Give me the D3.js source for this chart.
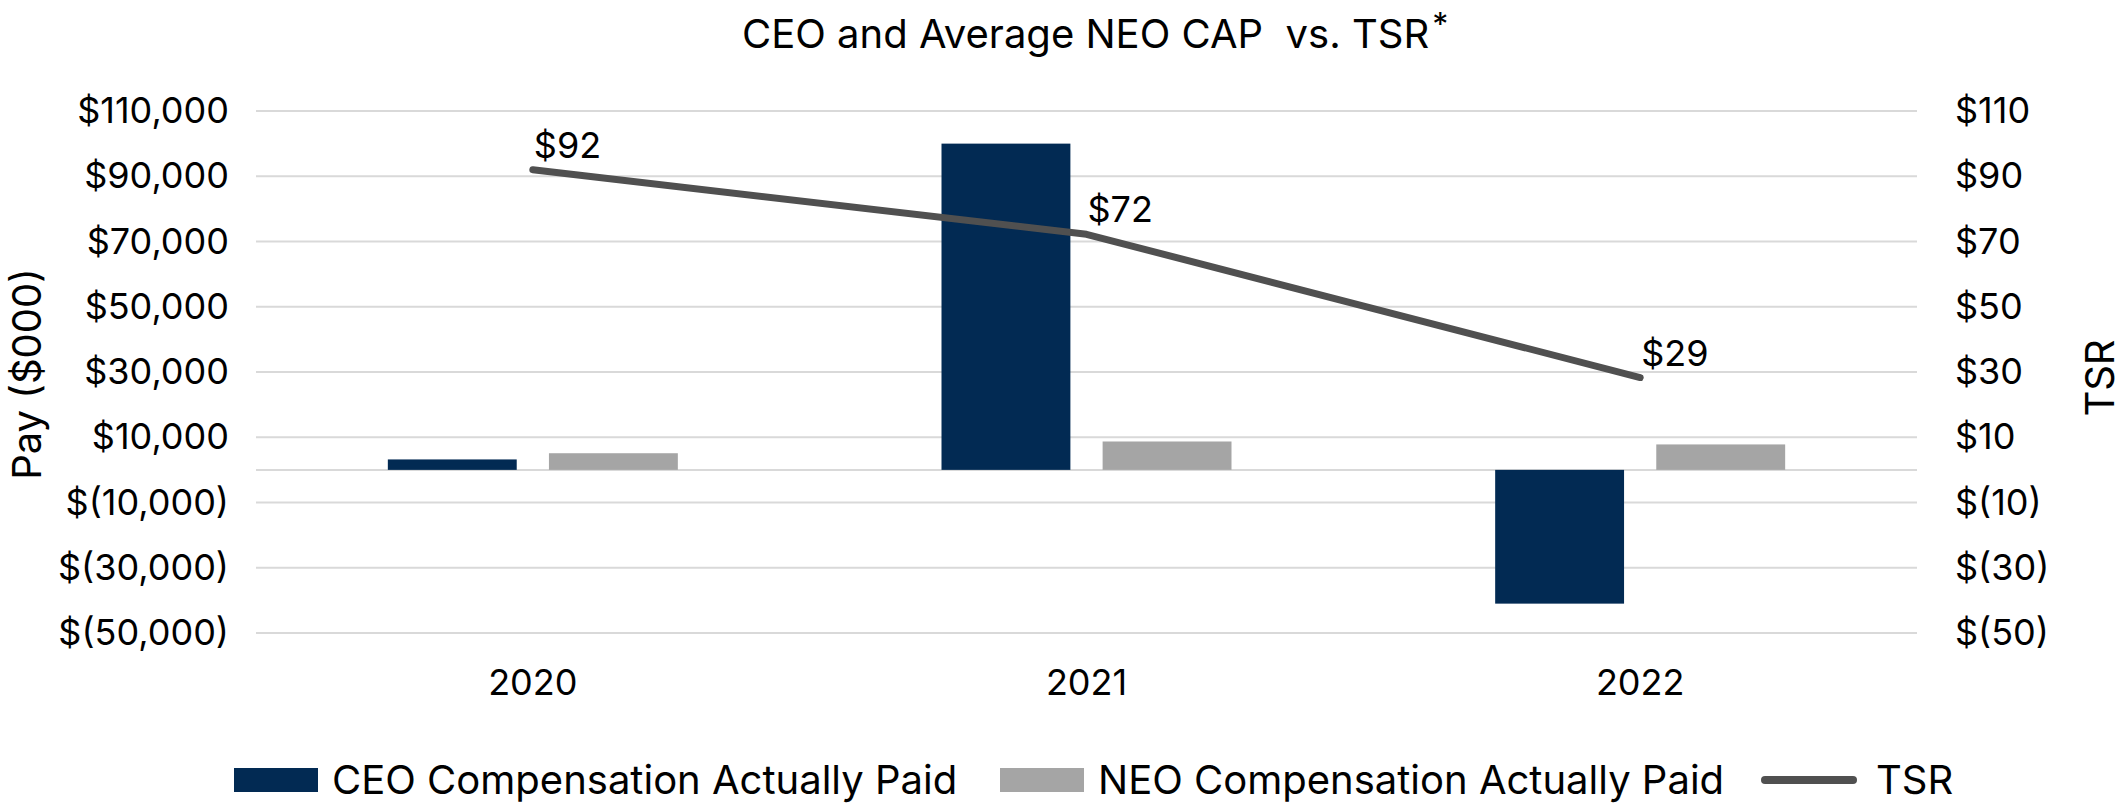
<!DOCTYPE html>
<html>
<head>
<meta charset="utf-8">
<script src="https://cdn.jsdelivr.net/npm/d3@7"></script>
<style>
  html, body { margin: 0; padding: 0; background: #ffffff; }
  svg { display: block; font-family: Inter, "Noto Sans", Arial, sans-serif; }
</style>
</head>
<body>
<svg id="chart" width="2124" height="803"></svg>
<script>
// ---- data ----
const years = ["2020", "2021", "2022"];
const ceoCAP = [3200, 100000, -41000];   // $000
const neoCAP = [5100, 8700, 7800];       // $000
const tsr = [92, 72.2, 28.3];            // $
const tsrLabels = ["$92", "$72", "$29"];
const payTicks = [-50000, -30000, -10000, 10000, 30000, 50000, 70000, 90000, 110000];
const tsrTicks = [-50, -30, -10, 10, 30, 50, 70, 90, 110];
const seriesNames = ["CEO Compensation Actually Paid", "NEO Compensation Actually Paid", "TSR"];
const colors = ["#022A53", "#A5A5A5", "#505050"];

// ---- layout ----
const plotL = 256, plotR = 1917, plotT = 111, plotB = 633;
const svg = d3.select("#chart");

const x0 = d3.scaleBand().domain(years).range([plotL, plotR]).padding(0);
const groupW = 290;
const x1 = d3.scaleBand().domain(["ceo", "neo"]).range([-groupW / 2, groupW / 2]).paddingInner(0.2);
const yPay = d3.scaleLinear().domain([-50000, 110000]).range([plotB, plotT]);
const yTsr = d3.scaleLinear().domain([-50, 110]).range([plotB, plotT]);

const num = d3.format(",.0f");
const money = v => v < 0 ? "$(" + num(-v) + ")" : "$" + num(v);

// gridlines
const grid = svg.append("g");
grid.selectAll("line").data(payTicks.concat([0])).join("line")
  .attr("x1", plotL).attr("x2", plotR)
  .attr("y1", d => yPay(d)).attr("y2", d => yPay(d))
  .attr("stroke", "#D9D9D9").attr("stroke-width", 2);

// left axis
const yAxisL = d3.axisLeft(yPay).tickValues(payTicks).tickFormat(money).tickSize(0).tickPadding(27);
const gL = svg.append("g").attr("transform", `translate(${plotL},0)`).call(yAxisL);
gL.select(".domain").remove();
gL.selectAll("text").attr("font-size", 36).attr("fill", "#000").attr("font-family", "Inter, sans-serif");

// right axis
const yAxisR = d3.axisRight(yTsr).tickValues(tsrTicks).tickFormat(money).tickSize(0).tickPadding(38);
const gR = svg.append("g").attr("transform", `translate(${plotR},0)`).call(yAxisR);
gR.select(".domain").remove();
gR.selectAll("text").attr("font-size", 36).attr("fill", "#000").attr("font-family", "Inter, sans-serif");

// x axis labels
const xAxis = d3.axisBottom(x0).tickSize(0).tickPadding(0);
const gX = svg.append("g").attr("transform", `translate(0,${plotB})`).call(xAxis);
gX.select(".domain").remove();
gX.selectAll("text").attr("font-size", 36).attr("fill", "#000").attr("font-family", "Inter, sans-serif")
  .attr("dy", null).attr("y", 62);

// bars
const barData = [];
years.forEach((yr, i) => {
  barData.push({ yr, key: "ceo", v: ceoCAP[i], c: colors[0] });
  barData.push({ yr, key: "neo", v: neoCAP[i], c: colors[1] });
});
svg.append("g").selectAll("rect").data(barData).join("rect")
  .attr("x", d => x0(d.yr) + x0.bandwidth() / 2 + x1(d.key))
  .attr("width", x1.bandwidth())
  .attr("y", d => yPay(Math.max(0, d.v)))
  .attr("height", d => Math.abs(yPay(d.v) - yPay(0)))
  .attr("fill", d => d.c);

// TSR line
const pts = years.map((yr, i) => ({ yr, v: tsr[i], label: tsrLabels[i] }));
const line = d3.line().x(d => x0(d.yr) + x0.bandwidth() / 2).y(d => yTsr(d.v));
svg.append("path").datum(pts).attr("d", line)
  .attr("fill", "none").attr("stroke", colors[2]).attr("stroke-width", 7)
  .attr("stroke-linecap", "round").attr("stroke-linejoin", "round");

// TSR labels
svg.append("g").selectAll("text").data(pts).join("text")
  .attr("x", d => x0(d.yr) + x0.bandwidth() / 2 + 1)
  .attr("y", d => yTsr(d.v) - 12)
  .attr("font-size", 36).attr("fill", "#000")
  .text(d => d.label);

// title
const title = svg.append("text").attr("x", 742).attr("y", 48)
  .attr("text-anchor", "start").attr("font-size", 40).attr("fill", "#000")
  .style("white-space", "pre");
title.append("tspan").text("CEO and Average NEO CAP  vs. TSR");
title.append("tspan").text("*").attr("dx", 3).attr("dy", -12).attr("font-size", 32);

// axis titles
svg.append("text").attr("transform", "translate(41,374) rotate(-90)")
  .attr("text-anchor", "middle").attr("font-size", 40).attr("fill", "#000").text("Pay ($000)");
svg.append("text").attr("transform", "translate(2114,378) rotate(-90)")
  .attr("text-anchor", "middle").attr("font-size", 40).attr("fill", "#000").text("TSR");

// legend
const legY = 780;
const lg = svg.append("g");
const legItems = [
  { name: seriesNames[0], type: "rect", c: colors[0], x: 234 },
  { name: seriesNames[1], type: "rect", c: colors[1], x: 1000 },
  { name: seriesNames[2], type: "line", c: colors[2], x: 1760 }
];
legItems.forEach(it => {
  if (it.type === "rect") {
    lg.append("rect").attr("x", it.x).attr("y", legY - 12).attr("width", 84).attr("height", 24).attr("fill", it.c);
  } else {
    lg.append("line").attr("x1", it.x + 5).attr("x2", it.x + 93).attr("y1", legY).attr("y2", legY)
      .attr("stroke", it.c).attr("stroke-width", 8).attr("stroke-linecap", "round");
  }
  lg.append("text").attr("x", it.x + (it.type === "rect" ? 98 : 116)).attr("y", legY + 14)
    .attr("font-size", 40).attr("fill", "#000").text(it.name);
});
</script>
</body>
</html>
